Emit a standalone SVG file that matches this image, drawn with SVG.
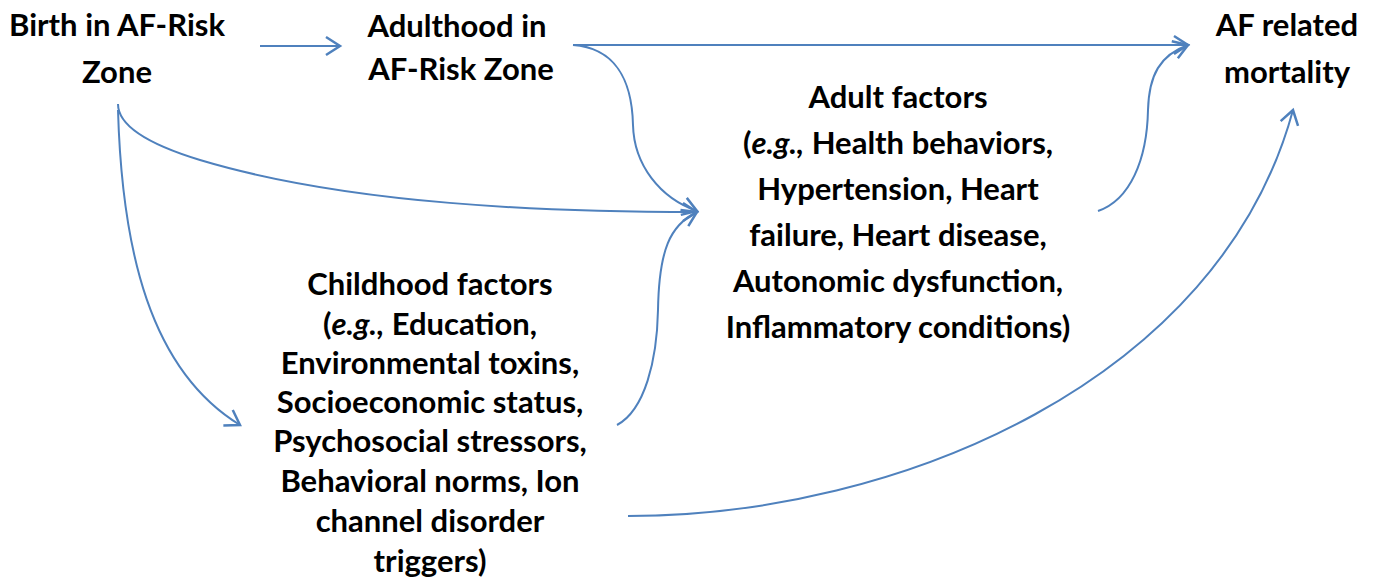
<svg xmlns="http://www.w3.org/2000/svg" width="1376" height="586" viewBox="0 0 1376 586">
<style>
text{font-family:Lato,"Liberation Sans",sans-serif;font-weight:bold;font-size:31px;fill:#000;text-anchor:middle}
.c{fill:none;stroke:#4F81BD;stroke-width:2;marker-end:url(#a)}
</style>
<defs>
<marker id="a" markerUnits="userSpaceOnUse" markerWidth="24" markerHeight="24" refX="16" refY="10" orient="auto" viewBox="0 0 24 20">
<path d="M2,1 L16,10 L2,19" fill="none" stroke="#4F81BD" stroke-width="2.5"/>
</marker>
</defs>
<g id="connectors">
<path class="c" d="M260,46 L340,46"/>
<path class="c" d="M573,45 L1188,45"/>
<path class="c" d="M573,45 C615,48 632,80 633,125 C634,165 660,198 697,211"/>
<path class="c" d="M118,104 Q118,135 200,160 C350,205 550,212 697,212"/>
<path class="c" d="M118,110 C122,250 150,370 240,425"/>
<path class="c" d="M617,425 C645,410 657,360 658,310 C659,250 670,225 697,212"/>
<path class="c" d="M1098,211 C1130,200 1147,160 1148,110 C1149,75 1160,55 1188,45"/>
<path class="c" d="M628,516 C900,516 1220,380 1293,110"/>
</g>
<g id="birth">
<text x="117" y="36">Birth in AF-Risk</text>
<text x="117" y="83">Zone</text>
</g>
<g id="adulthood">
<text x="457" y="37">Adulthood in</text>
<text x="461" y="80">AF-Risk Zone</text>
</g>
<g id="mortality">
<text x="1287" y="36">AF related</text>
<text x="1287" y="83">mortality</text>
</g>
<g id="adult-factors">
<text x="898" y="108">Adult factors</text>
<text x="898" y="154">(<tspan font-style="italic">e.g.,</tspan> Health behaviors,</text>
<text x="898" y="200">Hypertension, Heart</text>
<text x="898" y="246">failure, Heart disease,</text>
<text x="898" y="292">Autonomic dysfunction,</text>
<text x="898" y="338">Inflammatory conditions)</text>
</g>
<g id="childhood-factors">
<text x="430" y="295">Childhood factors</text>
<text x="430" y="335">(<tspan font-style="italic">e.g.,</tspan> Education,</text>
<text x="430" y="374">Environmental toxins,</text>
<text x="430" y="413">Socioeconomic status,</text>
<text x="430" y="452">Psychosocial stressors,</text>
<text x="430" y="492">Behavioral norms, Ion</text>
<text x="430" y="532">channel disorder</text>
<text x="430" y="572">triggers)</text>
</g>
</svg>
